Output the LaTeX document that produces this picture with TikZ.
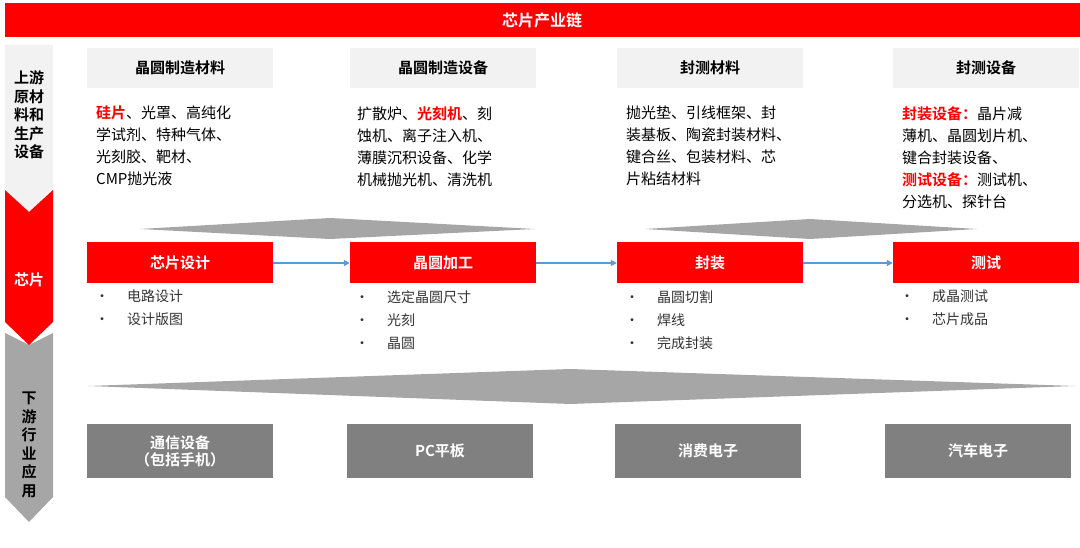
\documentclass[tikz,border=0pt]{standalone}
\usepackage{fontspec}
\setmainfont{Noto Sans CJK SC}
\newfontfamily\cjkbold{Noto Sans CJK SC Bold}
\usetikzlibrary{arrows.meta,positioning}
\definecolor{chipred}{RGB}{255,0,0}
\definecolor{headgray}{RGB}{242,242,242}
\definecolor{bandgray}{RGB}{166,166,166}
\definecolor{boxgray}{RGB}{128,128,128}
\definecolor{flowblue}{RGB}{91,155,213}
\tikzset{
        headbox/.style = {fill=headgray, minimum width=186pt, minimum height=40pt,
            inner sep=0pt, font=\cjkbold\fontsize{15}{15}\selectfont},
        stagebox/.style = {fill=chipred, text=white, minimum width=186pt, minimum height=41pt,
            inner sep=0pt, font=\cjkbold\fontsize{15}{15}\selectfont},
        usebox/.style = {fill=boxgray, text=white, minimum width=186pt, minimum height=54pt,
            inner sep=0pt, align=center, font=\cjkbold\fontsize{15}{17}\selectfont},
        desc/.style = {anchor=north west, inner sep=0pt, align=left,
            font=\fontsize{15}{22}\selectfont},
        bullets/.style = {anchor=north west, inner sep=0pt, align=left, text=black!80,
            font=\fontsize{14}{23}\selectfont},
        flow/.style = {draw=flowblue, line width=1.5pt, -{Triangle[length=6pt,width=6pt]}},
        sidelabel/.style = {align=center, font=\cjkbold\fontsize{15}{18.5}\selectfont},
    }
\newcommand{\hl}[1]{{\cjkbold\color{chipred}#1}}
\newcommand{\bl}{\textbullet\hspace{18pt}}
\begin{document}
\begin{tikzpicture}[x=1pt,y=-1pt]
\useasboundingbox (0,0) rectangle (1080,548);
% title
\fill[chipred] (5,3) rectangle (1080,37);
\node[text=white, font=\cjkbold\fontsize{16}{16}\selectfont] (title) at (542,20) {芯片产业链};
% side chevrons
\fill[headgray] (5,45) -- (53,45) -- (53,188) -- (29,212) -- (5,188) -- cycle;
\fill[bandgray] (5,333) -- (29,345) -- (53,333) -- (53,497) -- (29,522) -- (5,497) -- cycle;
\fill[chipred] (5,190) -- (29,212) -- (53,190) -- (53,322) -- (29,345) -- (5,322) -- cycle;
\node[sidelabel] (up) at (29,115) {上游\\原材\\料和\\生产\\设备};
\node[sidelabel, text=white] (mid) at (29,280) {芯片};
\node[sidelabel] (down) at (29,445) {下\\游\\行\\业\\应\\用};
% gray bands
\fill[bandgray] (140,229) -- (330,218) -- (535,229) -- (330,239) -- cycle;
\fill[bandgray] (645,229) -- (810,219) -- (977,229) -- (810,239) -- cycle;
\fill[bandgray] (88,386) -- (570,369) -- (1075,386) -- (570,404) -- cycle;
% headers
\node[headbox] (h1) at (180,68) {晶圆制造材料};
\node[headbox] (h2) at (443,68) {晶圆制造设备};
\node[headbox] (h3) at (710,68) {封测材料};
\node[headbox] (h4) at (986,68) {封测设备};
\node[desc] (d1) at (96,106) {\hl{硅片}、光罩、高纯化\\学试剂、特种气体、\\光刻胶、靶材、\\CMP抛光液};
\node[desc] (d2) at (357,106) {扩散炉、\hl{光刻机}、刻\\蚀机、离子注入机、\\薄膜沉积设备、化学\\机械抛光机、清洗机};
\node[desc] (d3) at (626,106) {抛光垫、引线框架、封\\装基板、陶瓷封装材料、\\键合丝、包装材料、芯\\片粘结材料};
\node[desc] (d4) at (902,106) {\hl{封装设备：}晶片减\\薄机、晶圆划片机、\\键合封装设备、\\\hl{测试设备：}测试机、\\分选机、探针台};
% stages
\node[stagebox] (s1) at (180,263) {芯片设计};
\node[stagebox] (s2) at (443,263) {晶圆加工};
\node[stagebox] (s3) at (710,263) {封装};
\node[stagebox] (s4) at (986,263) {测试};
\draw[flow] (s1) -- (s2);
\draw[flow] (s2) -- (s3);
\draw[flow] (s3) -- (s4);
\node[bullets] (b1) at (95,290) {\bl 电路设计\\\bl 设计版图};
\node[bullets] (b2) at (355,290) {\bl 选定晶圆尺寸\\\bl 光刻\\\bl 晶圆};
\node[bullets] (b3) at (625,290) {\bl 晶圆切割\\\bl 焊线\\\bl 完成封装};
\node[bullets] (b4) at (900,290) {\bl 成晶测试\\\bl 芯片成品};
% downstream
\node[usebox] (u1) at (180,451) {通信设备\\（包括手机）};
\node[usebox] (u2) at (440,451) {PC平板};
\node[usebox] (u3) at (708,451) {消费电子};
\node[usebox] (u4) at (978,451) {汽车电子};
\end{tikzpicture}
\end{document}
